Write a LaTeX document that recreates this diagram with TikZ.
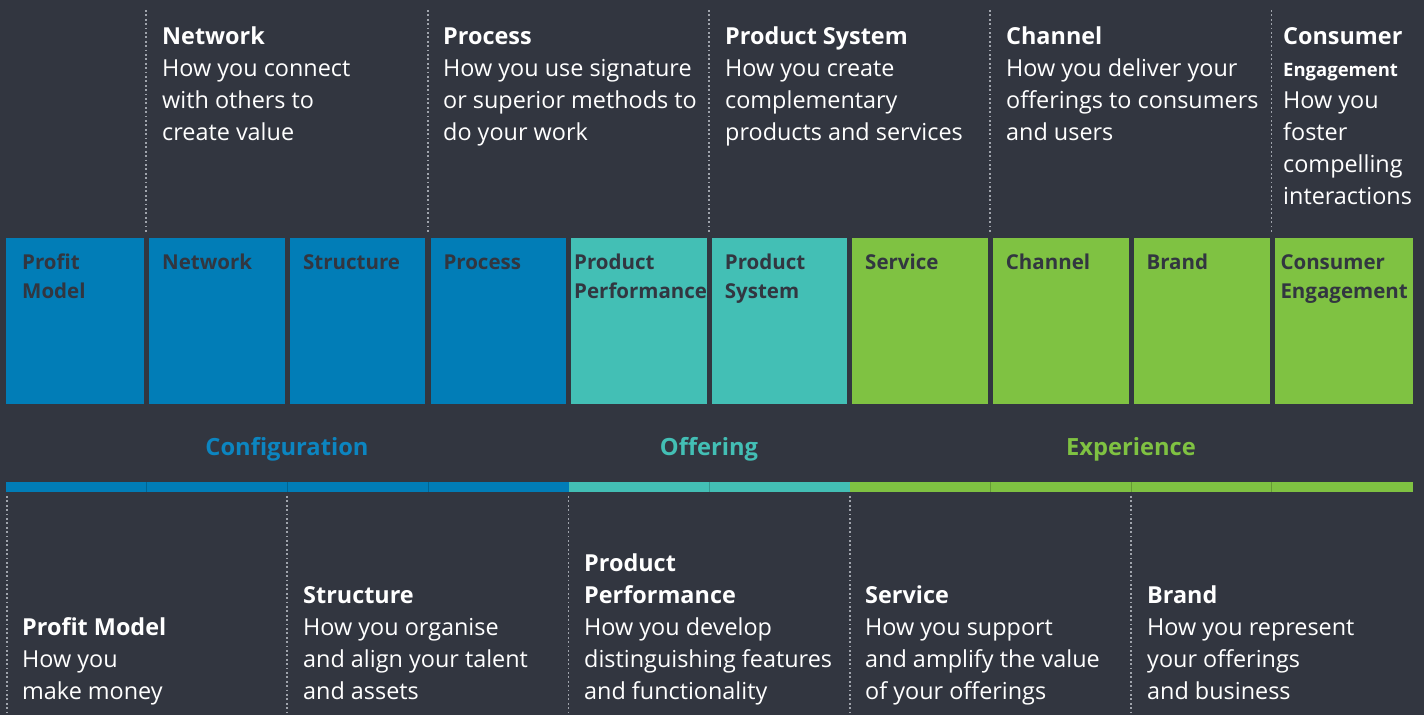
\documentclass[tikz,border=0pt]{standalone}
\usepackage{fontspec}
\setmainfont{Open Sans}
\definecolor{bg}{HTML}{323640}
\definecolor{cblue}{HTML}{017DB7}
\definecolor{cteal}{HTML}{43BFB5}
\definecolor{cgreen}{HTML}{7FC242}
\definecolor{labblue}{HTML}{0C85C0}
\definecolor{dark}{HTML}{323640}
\definecolor{dotc}{HTML}{A0A4AC}
\newcommand\descblk[2]{\parbox[t]{300pt}{\raggedright\fontsize{23.4}{32}\selectfont\textbf{#1}\\#2}}
\newcommand\boxtxt[1]{\parbox[t]{140pt}{\raggedright\fontsize{20.5}{29}\selectfont\bfseries #1}}
\begin{document}
\begin{tikzpicture}[x=1pt,y=-1pt,
  boxn/.style={rectangle, inner sep=0pt, minimum height=166pt, anchor=north west},
  boxlab/.style={anchor=base west, inner sep=0pt, text=dark},
  desc/.style={anchor=base west, inner sep=0pt, text=white},
  catlab/.style={anchor=base, inner sep=0pt, font=\fontsize{23.7}{28}\selectfont\bfseries},
  dotline/.style={draw=dotc, line width=1.8pt, dash pattern=on 1.8pt off 2.6pt},
  barseg/.style={rectangle, inner sep=0pt, minimum height=10pt, anchor=north west}]
\fill[bg] (0,0) rectangle (1424,715);
\useasboundingbox (0,0) rectangle (1424,715);

% top dotted lines
\foreach \x/\n in {146.3/t1,427.8/t2,709/t3,990.2/t4,1271.5/t5}{
  \coordinate (\n a) at (\x,10);
  \coordinate (\n b) at (\x,234);
  \draw[dotline] (\n a) -- (\n b);
}
% bottom dotted lines
\foreach \x/\n in {7/u1,287.2/u2,568.5/u3,849.7/u4,1130.8/u5}{
  \coordinate (\n a) at (\x,496);
  \coordinate (\n b) at (\x,715);
  \draw[dotline] (\n a) -- (\n b);
}

% top descriptions
\node[desc] (dNetwork) at (162,44) {\descblk{Network}{How you connect\\with others to\\create value}};
\node[desc] (dProcess) at (443,44) {\descblk{Process}{How you use signature\\or superior methods to\\do your work}};
\node[desc] (dProdSys) at (725,44) {\descblk{Product System}{How you create\\complementary\\products and services}};
\node[desc] (dChannel) at (1006,44) {\descblk{Channel}{How you deliver your\\offerings to consumers\\and users}};
\node[desc] (dConsumer) at (1283,44) {\parbox[t]{140pt}{\raggedright\fontsize{23.4}{32}\selectfont\textbf{Consumer}\\{\fontsize{18.5}{32}\selectfont\textbf{Engagement}}\\How you\\foster\\compelling\\interactions}};

% boxes
\foreach \l/\r/\n/\c in {6/143.7/b1/cblue,149/284.3/b2/cblue,290/425/b3/cblue,430.3/566/b4/cblue,571/706.7/b5/cteal,711.7/847/b6/cteal,852/987.7/b7/cgreen,992.7/1128.3/b8/cgreen,1133.3/1269.3/b9/cgreen,1274.3/1412.7/b10/cgreen}{
  \node[boxn, fill=\c, minimum width={\r-\l}] (\n) at (\l,237.3) {};
}
\node[boxlab] (l1) at ([xshift=16pt,yshift=-32.2pt]b1.north west) {\boxtxt{Profit\\Model}};
\node[boxlab] (l2) at ([xshift=13pt,yshift=-32.2pt]b2.north west) {\boxtxt{Network}};
\node[boxlab] (l3) at ([xshift=13pt,yshift=-32.2pt]b3.north west) {\boxtxt{Structure}};
\node[boxlab] (l4) at ([xshift=13pt,yshift=-32.2pt]b4.north west) {\boxtxt{Process}};
\node[boxlab] (l5) at ([xshift=3pt,yshift=-32.2pt]b5.north west) {\boxtxt{Product\\Performance}};
\node[boxlab] (l6) at ([xshift=13pt,yshift=-32.2pt]b6.north west) {\boxtxt{Product\\System}};
\node[boxlab] (l7) at ([xshift=13pt,yshift=-32.2pt]b7.north west) {\boxtxt{Service}};
\node[boxlab] (l8) at ([xshift=13pt,yshift=-32.2pt]b8.north west) {\boxtxt{Channel}};
\node[boxlab] (l9) at ([xshift=13pt,yshift=-32.2pt]b9.north west) {\boxtxt{Brand}};
\node[boxlab] (l10) at ([xshift=6pt,yshift=-32.2pt]b10.north west) {\boxtxt{Consumer\\Engagement}};

% category labels
\node[catlab, text=labblue] (cConf) at (287,455) {Configuration};
\node[catlab, text=cteal] (cOff) at (709,455) {Offering};
\node[catlab, text=cgreen] (cExp) at (1131,455) {Experience};

% bar
\node[barseg, fill=cblue, minimum width=562.5pt] (barB) at (6,482) {};
\node[barseg, fill=cteal, minimum width=281.2pt] (barT) at (568.5,482) {};
\node[barseg, fill=cgreen, minimum width=563pt] (barG) at (849.7,482) {};
\foreach \x/\c in {146.3/cblue,287.2/cblue,427.8/cblue,990.2/cgreen,1130.8/cgreen,1271.5/cgreen}{
  \draw[\c!80!black, line width=0.6pt] (\x,482) -- (\x,492);
}
\draw[cteal!80!black, line width=0.6pt] (709,482) -- (709,492);

% bottom descriptions
\node[desc] (dProfit) at (22,635) {\descblk{Profit Model}{How you\\make money}};
\node[desc] (dStructure) at (303,603) {\descblk{Structure}{How you organise\\and align your talent\\and assets}};
\node[desc] (dProdPerf) at (584,571) {\descblk{Product\\Performance}{How you develop\\distinguishing features\\and functionality}};
\node[desc] (dService) at (865,603) {\descblk{Service}{How you support\\and amplify the value\\of your offerings}};
\node[desc] (dBrand) at (1147,603) {\descblk{Brand}{How you represent\\your offerings\\and business}};
\end{tikzpicture}
\end{document}
